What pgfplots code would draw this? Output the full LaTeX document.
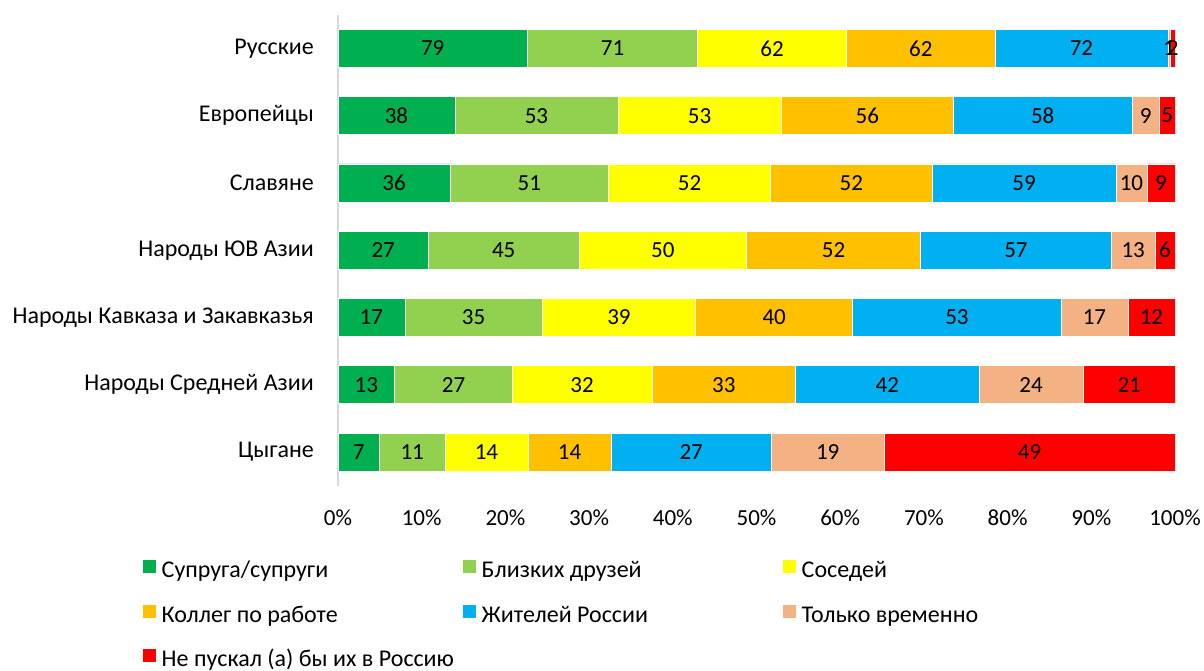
\documentclass[border=0pt]{standalone}
\usepackage{fontspec}
\setmainfont{Carlito}
\usepackage{pgfplots}
\usepackage{pgfplotstable}
\pgfplotsset{compat=1.18}
\definecolor{cA}{HTML}{00B050}
\definecolor{cB}{HTML}{92D050}
\definecolor{cC}{HTML}{FFFF00}
\definecolor{cD}{HTML}{FFC000}
\definecolor{cE}{HTML}{00B0F0}
\definecolor{cF}{HTML}{F4B183}
\definecolor{cG}{HTML}{FF0000}
\pgfplotstableread{
idx a b c d e f g
6 79 71 62 62 72 1 2
5 38 53 53 56 58 9 5
4 36 51 52 52 59 10 9
3 27 45 50 52 57 13 6
2 17 35 39 40 53 17 12
1 13 27 32 33 42 24 21
0 7 11 14 14 27 19 49
}\data
\pgfplotstablecreatecol[expr={\thisrow{a}+\thisrow{b}+\thisrow{c}+\thisrow{d}+\thisrow{e}+\thisrow{f}+\thisrow{g}}]{s}\data
\newcommand{\F}{\fontsize{24bp}{28bp}\selectfont}
\newcommand{\N}{\fontsize{23bp}{27bp}\selectfont}
\begin{document}
\begin{tikzpicture}
\useasboundingbox (0,0) rectangle (1204bp,671bp);
\pgfplotsset{common/.style={scale only axis, width=837bp, height=471bp,
  xmin=0, xmax=100, ymin=-0.5, ymax=6.5, at={(338bp,185.3bp)}, anchor=south west},
  myleg/.style={legend image code/.code={\path[##1,draw=none] (0bp,-1bp) rectangle (13bp,12bp);}},
  bb/.style={fill=#1, draw=white, line width=0.6bp, myleg}}
\begin{axis}[common, xbar stacked, bar width=38bp,
  axis lines*=left, x axis line style={draw=none},
  y axis line style={draw=black!15, line width=1.2bp},
  major tick length=0pt,
  xtick={0,10,...,100},
  xticklabels={0\%,10\%,20\%,30\%,40\%,50\%,60\%,70\%,80\%,90\%,100\%},
  ytick={0,1,2,3,4,5,6},
  yticklabels={Цыгане,Народы Средней Азии,Народы Кавказа и Закавказья,Народы ЮВ Азии,Славяне,Европейцы,Русские},
  tick label style={inner sep=0pt, text=black},
  yticklabel style={font=\F, xshift=-24bp},
  xticklabel style={font=\N, anchor=center, yshift=-32bp},
  legend columns=3,
  legend cell align=left,
  legend style={draw=none, fill=none, inner sep=0pt, outer sep=0pt, row sep=21bp, column sep=0pt,
    nodes={inner sep=0pt, text height=17bp, text depth=6bp, font=\F},
    at={(-0.2333,-0.158)}, anchor=north west},
]
\addplot[bb=cA] table[x expr=\thisrow{a}/\thisrow{s}*100, y=idx]{\data};
\addlegendentry{\makebox[307bp][l]{\hspace{6bp}Супруга/супруги}}
\addplot[bb=cB] table[x expr=\thisrow{b}/\thisrow{s}*100, y=idx]{\data};
\addlegendentry{\makebox[307bp][l]{\hspace{6bp}Близких друзей}}
\addplot[bb=cC] table[x expr=\thisrow{c}/\thisrow{s}*100, y=idx]{\data};
\addlegendentry{\makebox[307bp][l]{\hspace{6bp}Соседей}}
\addplot[bb=cD] table[x expr=\thisrow{d}/\thisrow{s}*100, y=idx]{\data};
\addlegendentry{\makebox[307bp][l]{\hspace{6bp}Коллег по работе}}
\addplot[bb=cE] table[x expr=\thisrow{e}/\thisrow{s}*100, y=idx]{\data};
\addlegendentry{\makebox[307bp][l]{\hspace{6bp}Жителей России}}
\addplot[bb=cF] table[x expr=\thisrow{f}/\thisrow{s}*100, y=idx]{\data};
\addlegendentry{\makebox[307bp][l]{\hspace{6bp}Только временно}}
\addplot[bb=cG] table[x expr=\thisrow{g}/\thisrow{s}*100, y=idx]{\data};
\addlegendentry{\makebox[307bp][l]{\hspace{6bp}Не пускал (а) бы их в Россию}}
\end{axis}
\begin{axis}[common, hide axis, point meta=explicit,
  nodes near coords={\pgfmathprintnumber[assume math mode=true]{\pgfplotspointmeta}},
  every node near coord/.style={font=\N, text=black, anchor=center, inner sep=0pt},
  lab/.style={only marks, mark=*, mark size=0pt, mark options={draw=none, fill=none}}]
\addplot[lab] table[x expr=\thisrow{a}/2/\thisrow{s}*100, y=idx, meta=a]{\data};
\addplot[lab] table[x expr=(\thisrow{a}+\thisrow{b}/2)/\thisrow{s}*100, y=idx, meta=b]{\data};
\addplot[lab] table[x expr=(\thisrow{a}+\thisrow{b}+\thisrow{c}/2)/\thisrow{s}*100, y=idx, meta=c]{\data};
\addplot[lab] table[x expr=(\thisrow{a}+\thisrow{b}+\thisrow{c}+\thisrow{d}/2)/\thisrow{s}*100, y=idx, meta=d]{\data};
\addplot[lab] table[x expr=(\thisrow{a}+\thisrow{b}+\thisrow{c}+\thisrow{d}+\thisrow{e}/2)/\thisrow{s}*100, y=idx, meta=e]{\data};
\addplot[lab] table[x expr=(\thisrow{a}+\thisrow{b}+\thisrow{c}+\thisrow{d}+\thisrow{e}+\thisrow{f}/2)/\thisrow{s}*100, y=idx, meta=f]{\data};
\addplot[lab] table[x expr=(\thisrow{a}+\thisrow{b}+\thisrow{c}+\thisrow{d}+\thisrow{e}+\thisrow{f}+\thisrow{g}/2)/\thisrow{s}*100, y=idx, meta=g]{\data};
\end{axis}
\end{tikzpicture}
\end{document}
